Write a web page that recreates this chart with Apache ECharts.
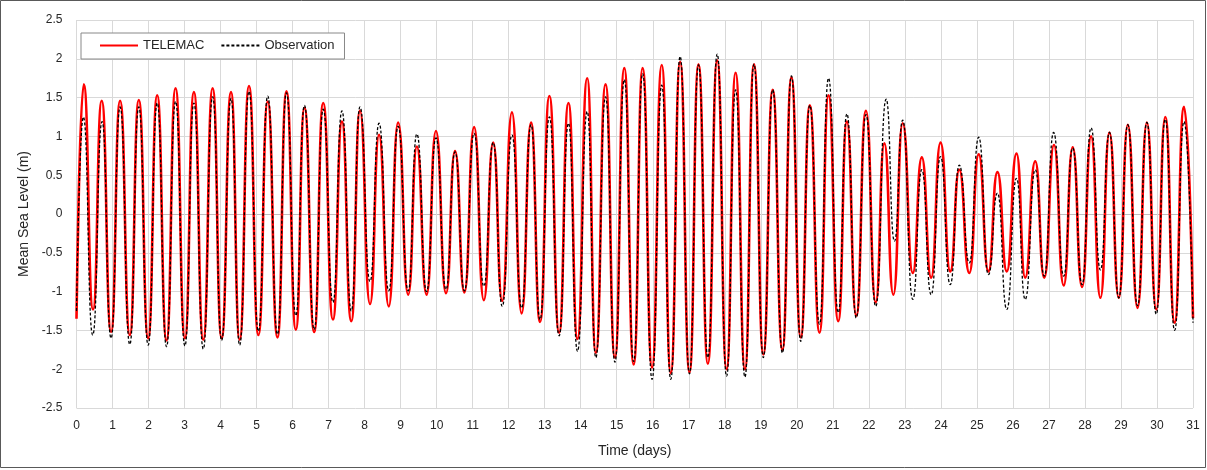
<!DOCTYPE html>
<html>
<head>
<meta charset="utf-8">
<script src="https://cdn.jsdelivr.net/npm/echarts@6/dist/echarts.min.js"></script>
<style>
  html, body { margin: 0; padding: 0; background: #fff; }
  #chart { width: 1207px; height: 470px; }
</style>
</head>
<body>
<div id="chart"></div>
<script>
// Tidal extremes (high and low waters) over the 31-day run, in days and metres.
const telemacTime = [
  0.00, 0.20, 0.46, 0.70, 0.96, 1.21, 1.48, 1.73, 1.99, 2.24, 2.50, 2.75, 3.01, 3.26, 3.52, 3.78,
  4.03, 4.29, 4.53, 4.79, 5.05, 5.31, 5.58, 5.83, 6.09, 6.33, 6.60, 6.85, 7.12, 7.37, 7.63, 7.87,
  8.15, 8.40, 8.67, 8.93, 9.21, 9.45, 9.72, 9.98, 10.26, 10.51, 10.77, 11.04, 11.31, 11.57, 11.82, 12.09,
  12.36, 12.62, 12.87, 13.13, 13.40, 13.66, 13.91, 14.18, 14.42, 14.69, 14.95, 15.21, 15.47, 15.72, 15.98, 16.25,
  16.50, 16.76, 17.02, 17.27, 17.53, 17.79, 18.05, 18.30, 18.56, 18.81, 19.07, 19.33, 19.60, 19.85, 20.11, 20.36,
  20.63, 20.88, 21.15, 21.39, 21.65, 21.92, 22.19, 22.43, 22.68, 22.94, 23.22, 23.47, 23.73, 23.99, 24.26, 24.51,
  24.79, 25.05, 25.32, 25.57, 25.83, 26.10, 26.34, 26.62, 26.87, 27.14, 27.41, 27.66, 27.92, 28.17, 28.43, 28.68,
  28.94, 29.19, 29.46, 29.72, 29.98, 30.23, 30.49, 30.75, 31.00
];
const telemacLevel = [
  -1.35, 1.67, -1.23, 1.46, -1.52, 1.46, -1.56, 1.47, -1.60, 1.53, -1.63, 1.62, -1.60, 1.57, -1.62, 1.62,
  -1.60, 1.57, -1.62, 1.65, -1.56, 1.45, -1.59, 1.58, -1.49, 1.37, -1.52, 1.43, -1.36, 1.19, -1.38, 1.33,
  -1.16, 1.02, -1.19, 1.18, -1.04, 0.87, -1.04, 1.07, -1.02, 0.81, -1.01, 1.12, -1.11, 0.92, -1.12, 1.31,
  -1.28, 1.18, -1.39, 1.52, -1.53, 1.43, -1.61, 1.75, -1.79, 1.67, -1.85, 1.88, -1.94, 1.88, -1.98, 1.92,
  -2.05, 1.96, -2.04, 1.93, -1.93, 1.98, -2.00, 1.82, -2.00, 1.93, -1.81, 1.60, -1.75, 1.76, -1.59, 1.40,
  -1.53, 1.53, -1.38, 1.19, -1.31, 1.33, -1.14, 0.91, -1.04, 1.17, -0.76, 0.73, -0.82, 0.92, -0.74, 0.57,
  -0.76, 0.77, -0.74, 0.54, -0.74, 0.78, -0.82, 0.68, -0.82, 0.89, -0.92, 0.86, -0.94, 1.00, -1.08, 1.05,
  -1.08, 1.15, -1.21, 1.18, -1.23, 1.25, -1.40, 1.38, -1.34
];

const observationTime = [
  0.00, 0.19, 0.45, 0.71, 0.96, 1.21, 1.48, 1.73, 1.99, 2.24, 2.50, 2.75, 3.01, 3.26, 3.52, 3.78,
  4.03, 4.29, 4.53, 4.79, 5.05, 5.31, 5.58, 5.83, 6.09, 6.33, 6.60, 6.85, 7.12, 7.37, 7.63, 7.87,
  8.15, 8.40, 8.67, 8.93, 9.21, 9.45, 9.72, 9.98, 10.26, 10.51, 10.77, 11.04, 11.31, 11.57, 11.82, 12.09,
  12.36, 12.62, 12.87, 13.13, 13.40, 13.66, 13.91, 14.18, 14.42, 14.69, 14.95, 15.21, 15.47, 15.72, 15.98, 16.25,
  16.50, 16.76, 17.02, 17.27, 17.53, 17.79, 18.05, 18.30, 18.56, 18.81, 19.07, 19.33, 19.60, 19.85, 20.11, 20.36,
  20.63, 20.88, 21.15, 21.39, 21.65, 21.92, 22.19, 22.48, 22.71, 22.94, 23.22, 23.47, 23.73, 23.99, 24.26, 24.51,
  24.79, 25.05, 25.32, 25.57, 25.83, 26.10, 26.34, 26.62, 26.87, 27.13, 27.41, 27.66, 27.92, 28.17, 28.43, 28.68,
  28.94, 29.19, 29.46, 29.72, 29.98, 30.23, 30.49, 30.75, 31.00
];
const observationLevel = [
  -1.25, 1.25, -1.56, 1.19, -1.60, 1.38, -1.68, 1.38, -1.69, 1.43, -1.71, 1.45, -1.70, 1.43, -1.74, 1.51,
  -1.63, 1.49, -1.69, 1.58, -1.51, 1.52, -1.55, 1.56, -1.31, 1.40, -1.49, 1.35, -1.14, 1.33, -1.25, 1.38,
  -0.87, 1.17, -0.99, 1.13, -0.99, 1.03, -1.00, 0.98, -0.97, 0.80, -0.99, 1.04, -0.93, 0.92, -1.19, 1.02,
  -1.21, 1.15, -1.36, 1.25, -1.57, 1.17, -1.77, 1.32, -1.85, 1.51, -1.91, 1.73, -1.90, 1.81, -2.13, 1.66,
  -2.13, 2.03, -2.06, 1.92, -1.85, 2.06, -2.09, 1.60, -2.10, 1.93, -1.85, 1.60, -1.79, 1.78, -1.64, 1.40,
  -1.42, 1.75, -1.27, 1.29, -1.34, 1.28, -1.19, 1.48, -0.35, 1.21, -1.10, 0.57, -1.04, 0.74, -0.91, 0.63,
  -0.63, 0.99, -0.78, 0.27, -1.23, 0.46, -1.10, 0.57, -0.80, 1.05, -0.80, 0.85, -0.91, 1.11, -0.72, 1.05,
  -1.08, 1.15, -1.18, 1.18, -1.29, 1.22, -1.50, 1.19, -1.40
];

const seriesNames = ['TELEMAC', 'Observation'];
const xTitle = 'Time (days)';
const yTitle = 'Mean Sea Level (m)';

const pairs = (t, v) => t.map((x, i) => [x, v[i]]);

const font = '"Liberation Sans", Arial, sans-serif';
const gridColor = '#d9d9d9';
// horizontal gridlines from -2.5 to 2.5; the zero line is drawn a little darker
const hLineColors = [gridColor, gridColor, gridColor, gridColor, gridColor, '#bfbfbf',
                     gridColor, gridColor, gridColor, gridColor, gridColor];

const chart = echarts.init(document.getElementById('chart'), null, { renderer: 'canvas' });
chart.setOption({
  backgroundColor: '#fff',
  animation: false,
  textStyle: { fontFamily: font },
  graphic: [{
    type: 'rect',
    shape: { x: 0.5, y: 0.5, width: 1205, height: 467 },
    style: { fill: 'none', stroke: '#595959', lineWidth: 1 },
    silent: true
  }],
  grid: { left: 76.5, right: 14, top: 20, bottom: 62 },
  legend: {
    left: 81, top: 33,
    padding: [6, 10, 7, 18],
    itemWidth: 38, itemHeight: 14, itemGap: 16,
    borderColor: '#888', borderWidth: 1, backgroundColor: '#fff',
    itemStyle: { opacity: 0 },
    textStyle: { fontFamily: font, fontSize: 13, color: '#262626' },
    data: seriesNames
  },
  xAxis: {
    type: 'value', min: 0, max: 31, interval: 1,
    name: xTitle, nameLocation: 'middle', nameGap: 36,
    nameTextStyle: { fontFamily: font, fontSize: 14, color: '#262626' },
    axisLine: { show: false },
    axisTick: { show: false },
    axisLabel: { margin: 12, fontSize: 12, color: '#262626', fontFamily: font },
    splitLine: { show: true, lineStyle: { color: gridColor, width: 1 } }
  },
  yAxis: {
    type: 'value', min: -2.5, max: 2.5, interval: 0.5,
    name: yTitle, nameLocation: 'middle', nameGap: 34, nameRotate: 90,
    nameTextStyle: { fontFamily: font, fontSize: 14, color: '#262626' },
    axisLine: { show: false },
    axisTick: { show: false },
    axisLabel: { margin: 14, fontSize: 12, color: '#262626', fontFamily: font },
    splitLine: { show: true, lineStyle: { color: hLineColors, width: 1 } }
  },
  series: [
    {
      name: seriesNames[0], type: 'line',
      data: pairs(telemacTime, telemacLevel),
      smooth: 0.55, smoothMonotone: 'x',
      showSymbol: false, symbol: 'none',
      lineStyle: { color: '#ff0000', width: 2.6 },
      itemStyle: { color: '#ff0000' },
      z: 2
    },
    {
      name: seriesNames[1], type: 'line',
      data: pairs(observationTime, observationLevel),
      smooth: 0.55, smoothMonotone: 'x',
      showSymbol: false, symbol: 'none',
      lineStyle: { color: '#000000', width: 1.3, type: [3, 2] },
      itemStyle: { color: '#000000' },
      z: 3
    }
  ]
});
</script>
</body>
</html>
